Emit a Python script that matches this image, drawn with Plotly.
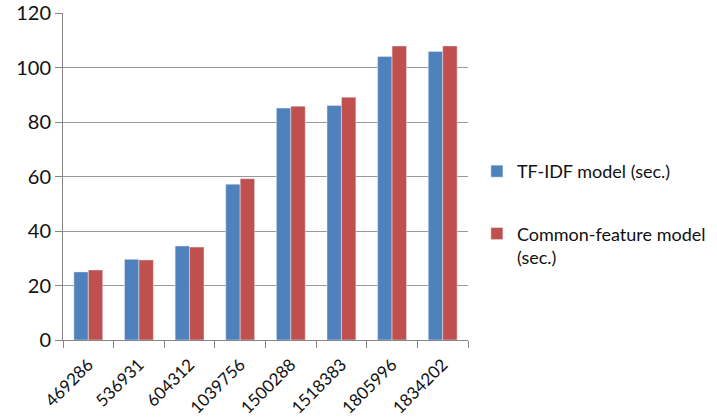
import plotly.graph_objects as go

categories = ["469286", "536931", "604312", "1039756", "1500288", "1518383", "1805996", "1834202"]
tfidf = [25.0, 29.6, 34.5, 57.2, 85.1, 86.1, 104.0, 105.9]
common = [25.7, 29.4, 34.1, 59.2, 85.8, 89.1, 107.9, 107.9]
series_names = ["TF-IDF model (sec.)", "Common-feature model<br>(sec.)"]
y_ticks = [0, 20, 40, 60, 80, 100, 120]

FONT = "Lato"
fig = go.Figure()
fig.add_trace(go.Bar(x=categories, y=tfidf, name=series_names[0], marker_color="#4F81BD",
                     legendgroup="a"))
fig.add_trace(go.Bar(x=categories, y=common, name=series_names[1], marker_color="#C0504D",
                     legendgroup="b"))

fig.update_layout(
    width=717, height=419,
    margin=dict(l=63, r=249, t=13, b=79, autoexpand=False),
    paper_bgcolor="white", plot_bgcolor="white",
    barmode="group", bargap=0.43, bargroupgap=0,
    font=dict(family=FONT, size=20, color="#111111"),
    legend=dict(x=1.022, y=0.572, xanchor="left", yanchor="top",
                font=dict(family=FONT, size=18), tracegroupgap=36,
                valign="top", itemwidth=30),
    xaxis=dict(type="category", showline=True, linecolor="#868686", linewidth=1,
               ticks="outside", tickson="boundaries", ticklen=7, tickcolor="#868686",
               tickangle=-45, tickfont=dict(family=FONT, size=17), showgrid=False,
               automargin=False, ticklabelstandoff=7),
    yaxis=dict(range=[0, 120], tickvals=y_ticks, showline=True, linecolor="#868686",
               linewidth=1, ticks="outside", ticklen=7, tickcolor="#868686",
               showgrid=True, gridcolor="#9a9a9a", gridwidth=1,
               tickfont=dict(family=FONT, size=20), zeroline=False, automargin=False),
)
fig.write_html("out.html")
